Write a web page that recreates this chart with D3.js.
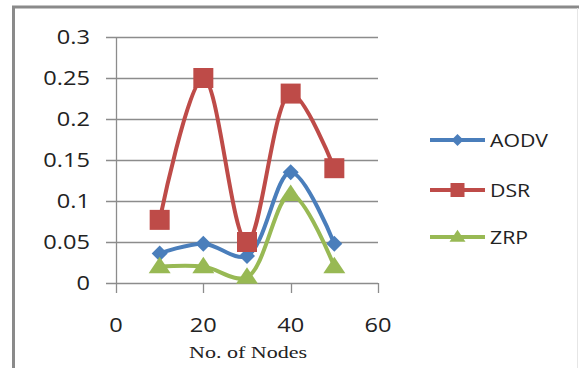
<!DOCTYPE html>
<html><head><meta charset="utf-8">
<script src="https://cdn.jsdelivr.net/npm/d3@7"></script>
<style>body{margin:0;background:#fff}svg{display:block}</style>
</head><body>
<svg id="c" width="579" height="368"></svg>
<script>
const nodes = [10, 20, 30, 40, 50];
const aodv = [0.036, 0.048, 0.033, 0.135, 0.048];
const dsr  = [0.077, 0.25, 0.050, 0.231, 0.14];
const zrp  = [0.02, 0.02, 0.007, 0.108, 0.02];
const seriesNames = ["AODV", "DSR", "ZRP"];
const xTicks = [0, 20, 40, 60];
const yTicks = [0, 0.05, 0.1, 0.15, 0.2, 0.25, 0.3];
const xTitle = "No. of Nodes";

const colors = {AODV: "#4a7ebb", DSR: "#be4b48", ZRP: "#98b954"};
const series = [
  {name: "AODV", values: aodv, marker: "diamond"},
  {name: "DSR", values: dsr, marker: "square"},
  {name: "ZRP", values: zrp, marker: "triangle"}
];

const svg = d3.select("#c");
// frame
svg.append("rect").attr("x",13.5).attr("y",7).attr("width",600).attr("height",400)
  .attr("fill","none").attr("stroke","#8a8a8a").attr("stroke-width",3);
svg.append("line").attr("x1",577.5).attr("x2",577.5).attr("y1",8).attr("y2",368)
  .attr("stroke","#e6e6e6").attr("stroke-width",1);

const x = d3.scaleLinear().domain([0,60]).range([116,378]);
const y = d3.scaleLinear().domain([0,0.3]).range([283,37]);

// gridlines
svg.append("g").selectAll("line").data(yTicks).join("line")
  .attr("x1",106).attr("x2",378).attr("y1",d=>Math.round(y(d))+0.5).attr("y2",d=>Math.round(y(d))+0.5)
  .attr("stroke","#8c8c8c").attr("stroke-width",1.3);
// y axis line
svg.append("line").attr("x1",116.5).attr("x2",116.5).attr("y1",37).attr("y2",283)
  .attr("stroke","#8c8c8c").attr("stroke-width",1.3);
// x ticks
svg.append("g").selectAll("line").data(xTicks).join("line")
  .attr("x1",d=>Math.round(x(d))+0.5).attr("x2",d=>Math.round(x(d))+0.5).attr("y1",283).attr("y2",293)
  .attr("stroke","#8c8c8c").attr("stroke-width",1.3);

const stretch = 1.18;
const yl = svg.append("g").selectAll("text").data(yTicks).join("text")
  .attr("x",90).attr("y",d=>y(d)+7).attr("text-anchor","end")
  .attr("font-family","Open Sans").attr("font-size",20).attr("fill","#222")
  .text(d=>d===0?"0":String(d));
const xl = svg.append("g").selectAll("text").data(xTicks).join("text")
  .attr("x",d=>x(d)).attr("y",332).attr("text-anchor","middle")
  .attr("font-family","Open Sans").attr("font-size",20).attr("fill","#222")
  .text(d=>d);
svg.append("text").attr("x",248).attr("y",358).attr("text-anchor","middle")
  .attr("font-family","Liberation Serif").attr("font-size",17).attr("fill","#222")
  .attr("textLength",118).attr("lengthAdjust","spacingAndGlyphs")
  .text(xTitle);

function markerPath(type, s) {
  if (type === "diamond") return `M0,${-s}L${s},0L0,${s}L${-s},0Z`;
  if (type === "square") return `M${-s},${-s}H${s}V${s}H${-s}Z`;
  return `M0,${-s*0.9}L${s},${s*0.6}H${-s}Z`;
}
const line = d3.line().x((d,i)=>x(nodes[i])).y(d=>y(d)).curve(d3.curveCatmullRom.alpha(0.5));
const msize = {diamond: 8, square: 10, triangle: 11};
series.forEach(s => {
  const g = svg.append("g");
  g.append("path").attr("d", line(s.values)).attr("fill","none")
    .attr("stroke", colors[s.name]).attr("stroke-width",4).attr("stroke-linejoin","round");
  g.selectAll("path.m").data(s.values).join("path").attr("class","m")
    .attr("transform",(d,i)=>`translate(${x(nodes[i])},${y(d)})`)
    .attr("d", markerPath(s.marker, msize[s.marker])).attr("fill", colors[s.name]);
});

// legend
const legY = [140, 190, 237];
const lmsize = {diamond: 6, square: 7, triangle: 8};
series.forEach((s,i) => {
  const g = svg.append("g").attr("transform",`translate(0,${legY[i]})`);
  g.append("line").attr("x1",430).attr("x2",485).attr("stroke",colors[s.name]).attr("stroke-width",4);
  g.append("path").attr("transform","translate(457.5,0)").attr("d",markerPath(s.marker,lmsize[s.marker])).attr("fill",colors[s.name]);
  g.append("text").attr("x",490).attr("y",7).attr("font-family","Open Sans").attr("font-size",18)
    .attr("fill","#222").attr("class","leg").text(s.name);
});

// horizontally stretch text to match reference proportions
svg.selectAll("text").each(function(){
  const t = d3.select(this);
  if (t.attr("textLength")) return;
  const w = this.getComputedTextLength();
  t.attr("textLength", w*stretch).attr("lengthAdjust","spacingAndGlyphs");
});
</script>
</body></html>
